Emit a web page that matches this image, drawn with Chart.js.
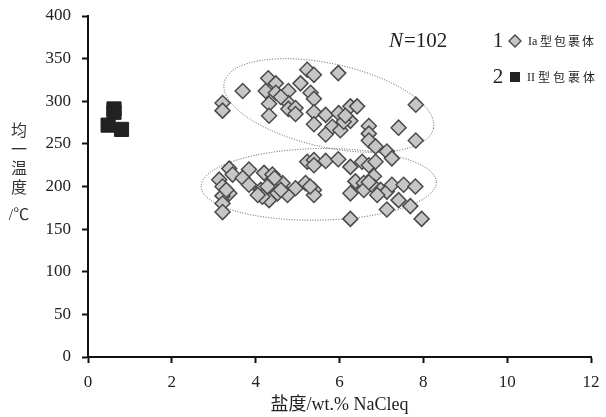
<!DOCTYPE html>
<html>
<head>
<meta charset="utf-8">
<script src="https://cdn.jsdelivr.net/npm/chart.js@4.4.1/dist/chart.umd.min.js"></script>
<style>
  html, body { margin: 0; padding: 0; background: #fff; }
  #wrap { width: 606px; height: 417px; }
</style>
</head>
<body>
<div id="wrap"><canvas id="chart"></canvas></div>
<script>
// 刻度
const xTicks = [0, 2, 4, 6, 8, 10, 12];
const yTicks = [0, 50, 100, 150, 200, 250, 300, 350, 400];

// Ia型包裹体 (盐度, 均一温度)
const typeIaSalinity = [
  3.21, 3.21, 3.69, 4.30, 4.48, 4.24, 4.48, 4.78, 5.07, 5.23, 5.39, 5.97, 4.32, 4.32,
  4.78, 4.78, 4.95, 4.95, 5.31, 5.39, 5.39, 5.39, 5.67, 5.83, 5.67, 5.98, 6.02, 6.26,
  6.42, 6.26, 6.10, 6.70, 6.70, 6.70, 6.86, 7.41, 7.82, 7.82, 7.13, 7.25, 6.14, 4.60,
  5.23, 5.39, 5.39, 5.67, 5.97, 6.26, 6.54, 6.70, 6.86, 3.37, 3.45, 3.84, 3.69, 3.84,
  3.13, 3.21, 3.37, 3.21, 3.21, 3.21, 4.20, 4.40, 4.12, 4.28, 4.32, 4.52, 4.64, 4.76,
  4.95, 5.19, 5.39, 5.39, 6.26, 6.38, 6.58, 6.58, 6.82, 6.82, 6.98, 7.13, 7.25, 7.53,
  7.81, 7.41, 7.69, 7.13, 7.96, 6.26, 4.16, 4.45, 4.60, 6.70, 6.90, 3.30, 5.30, 4.05
];
const typeIaTemp = [
  298, 289, 312, 327, 321, 312, 310, 312, 321, 337, 331, 333, 297, 283,
  298, 291, 292, 285, 310, 303, 287, 273, 284, 270, 261, 286, 266, 294,
  294, 277, 276, 271, 262, 254, 247, 269, 296, 254, 241, 233, 283, 305,
  229, 231, 225, 230, 232, 223, 229, 225, 229, 221, 214, 220, 210, 202,
  208, 200, 192, 189, 180, 170, 216, 214, 196, 200, 184, 192, 204, 190,
  198, 204, 196, 190, 192, 206, 204, 196, 212, 200, 196, 194, 202, 202,
  200, 184, 177, 173, 162, 162, 188, 210, 196, 205, 190, 196, 200, 190
];

// II型包裹体
const typeIISalinity = [0.62, 0.62, 0.48, 0.80];
const typeIITemp = [291, 287, 272, 267];

const serif = "'Liberation Serif', 'Noto Sans CJK SC', serif";
const cjk = "'Noto Sans CJK SC', sans-serif";

function toPoints(xs, ys) {
  return xs.map((x, i) => ({ x: x, y: ys[i] }));
}

// 虚线椭圆 (两端点, 短半轴用温度单位)
const ellipses = [
  { from: [3.25, 322], to: [8.24, 268], half: 49 },
  { from: [2.70, 200], to: [8.31, 205], half: 42 }
];

const ellipsePlugin = {
  id: 'ellipses',
  beforeDatasetsDraw(chart) {
    const { ctx, scales: { x, y } } = chart;
    ctx.save();
    ctx.strokeStyle = '#555';
    ctx.lineWidth = 1;
    ctx.setLineDash([1, 1.6]);
    ellipses.forEach(e => {
      const x1 = x.getPixelForValue(e.from[0]), y1 = y.getPixelForValue(e.from[1]);
      const x2 = x.getPixelForValue(e.to[0]), y2 = y.getPixelForValue(e.to[1]);
      const cx = (x1 + x2) / 2, cy = (y1 + y2) / 2;
      const rx = Math.hypot(x2 - x1, y2 - y1) / 2;
      const ry = Math.abs(y.getPixelForValue(0) - y.getPixelForValue(e.half));
      ctx.beginPath();
      ctx.ellipse(cx, cy, rx, ry, Math.atan2(y2 - y1, x2 - x1), 0, Math.PI * 2);
      ctx.stroke();
    });
    ctx.restore();
  }
};

// 图例、N 值和纵轴标题
const notePlugin = {
  id: 'notes',
  afterDraw(chart) {
    const ctx = chart.ctx;
    ctx.save();
    ctx.fillStyle = '#222';
    ctx.textBaseline = 'middle';
    ctx.textAlign = 'left';
    ctx.font = 'italic 21px ' + serif;
    ctx.fillText('N', 389, 41);
    const nw = ctx.measureText('N').width;
    ctx.font = '21px ' + serif;
    ctx.fillText('=102', 389 + nw + 1, 41);

    ctx.textAlign = 'center';
    ctx.fillText('1', 498, 41);
    ctx.fillText('2', 498, 77);

    // 图例符号
    ctx.beginPath();
    ctx.moveTo(515, 35); ctx.lineTo(521, 41); ctx.lineTo(515, 47); ctx.lineTo(509, 41);
    ctx.closePath();
    ctx.fillStyle = '#c6c6c6';
    ctx.fill();
    ctx.strokeStyle = '#4a4a4a';
    ctx.lineWidth = 1.4;
    ctx.stroke();
    ctx.fillStyle = '#222';
    ctx.fillRect(510, 72, 10, 10);

    ctx.textAlign = 'left';
    ctx.font = '12px ' + serif;
    ctx.fillText('Ia', 528, 42);
    ctx.fillText('II', 527, 78);
    ctx.font = '12px ' + cjk;
    ['型', '包', '裹', '体'].forEach((ch, i) => {
      ctx.fillText(ch, 540 + i * 14, 41);
      ctx.fillText(ch, 538 + i * 15, 77);
    });

    // 纵轴标题
    ctx.textAlign = 'center';
    ctx.font = '16px ' + cjk;
    ctx.fillStyle = '#333';
    ['均', '一', '温', '度'].forEach((ch, i) => ctx.fillText(ch, 19, 130 + i * 19));
    ctx.font = '16px ' + serif;
    ctx.fillText('/℃', 19, 216);
    ctx.restore();
  }
};

const ctx = document.getElementById('chart');
new Chart(ctx, {
  type: 'scatter',
  data: {
    datasets: [
      {
        label: 'Ia型包裹体',
        data: toPoints(typeIaSalinity, typeIaTemp),
        pointStyle: 'rectRot',
        pointRadius: 7.5,
        pointBackgroundColor: '#c6c6c6',
        pointBorderColor: '#4a4a4a',
        pointBorderWidth: 1.5
      },
      {
        label: 'II型包裹体',
        data: toPoints(typeIISalinity, typeIITemp),
        pointStyle: 'rect',
        pointRadius: 10,
        pointBackgroundColor: '#222',
        pointBorderColor: '#222',
        pointBorderWidth: 1
      }
    ]
  },
  options: {
    responsive: true,
    maintainAspectRatio: false,
    animation: false,
    layout: { padding: { left: 0, right: 15, top: 16, bottom: 0 } },
    plugins: {
      legend: { display: false },
      tooltip: { enabled: false }
    },
    scales: {
      x: {
        type: 'linear',
        min: 0,
        max: 12,
        afterBuildTicks: s => { s.ticks = xTicks.map(v => ({ value: v })); },
        afterFit: s => { s.height = 60; s.paddingLeft = 0; s.paddingRight = 0; },
        grid: { drawOnChartArea: false, tickLength: 6, tickColor: '#111', tickWidth: 2 },
        border: { color: '#111', width: 2 },
        ticks: { color: '#222', font: { family: serif, size: 17 }, padding: 9 },
        title: {
          display: true,
          text: '盐度/wt.% NaCleq',
          color: '#222',
          font: { family: serif, size: 18 },
          padding: { top: 0, bottom: 1 }
        }
      },
      y: {
        type: 'linear',
        min: 0,
        max: 400,
        afterBuildTicks: s => { s.ticks = yTicks.map(v => ({ value: v })); },
        afterFit: s => { s.width = 88; s.paddingTop = 0; s.paddingBottom = 0; },
        grid: { drawOnChartArea: false, tickLength: 6, tickColor: '#111', tickWidth: 2 },
        border: { color: '#111', width: 2 },
        ticks: { color: '#222', font: { family: serif, size: 17 }, padding: 11 }
      }
    }
  },
  plugins: [ellipsePlugin, notePlugin]
});
</script>
</body>
</html>
